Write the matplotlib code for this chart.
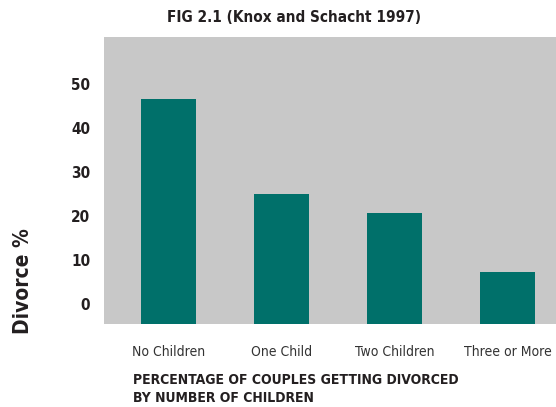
import matplotlib.pyplot as plt

# Data
categories = ['No Children', 'One Child', 'Two Children', 'Three or More']
divorce_pct = [46.6, 25.0, 20.7, 7.3]
y_ticks = [0, 10, 20, 30, 40, 50]

plt.rcParams['font.family'] = ['DejaVu Sans']
plt.rcParams['font.stretch'] = 'condensed'

text_color = '#231f20'
bar_color = '#00706a'
bg_color = '#c8c8c8'

fig = plt.figure(figsize=(5.56, 4.07), dpi=100)
ax = fig.add_axes([104 / 556, 1 - 324 / 407, 452 / 556, 287 / 407])
ax.set_facecolor(bg_color)

base = -4.6
x = list(range(len(categories)))
ax.bar(x, [v - base for v in divorce_pct], bottom=base, width=0.487, color=bar_color)

ax.set_xlim(-0.571, 3.429)
ax.set_ylim(base, 60.7)
for s in ax.spines.values():
    s.set_visible(False)

ax.set_yticks(y_ticks)
ax.set_yticklabels([str(t) for t in y_ticks], fontsize=11, fontweight='bold',
                   color=text_color, fontstretch='condensed')
ax.set_xticks(x)
ax.set_xticklabels(categories, fontsize=10, color='#333333', fontstretch='condensed')
ax.tick_params(axis='both', length=0)
ax.tick_params(axis='y', pad=10)
ax.tick_params(axis='x', pad=15)

fig.text(294 / 556, 1 - 18 / 407, 'FIG 2.1 (Knox and Schacht 1997)', ha='center', va='center',
         fontsize=11, fontweight='bold', color=text_color, fontstretch='condensed')
fig.text(23 / 556, 1 - 281 / 407, 'Divorce %', rotation=90, ha='center', va='center',
         fontsize=15, fontweight='bold', color=text_color, fontstretch='condensed')
fig.text(133 / 556, 1 - 389 / 407, 'PERCENTAGE OF COUPLES GETTING DIVORCED\nBY NUMBER OF CHILDREN',
         ha='left', va='center', fontsize=10, fontweight='bold', color=text_color,
         linespacing=1.35, fontstretch='condensed')

plt.savefig('out.png', dpi=100)
